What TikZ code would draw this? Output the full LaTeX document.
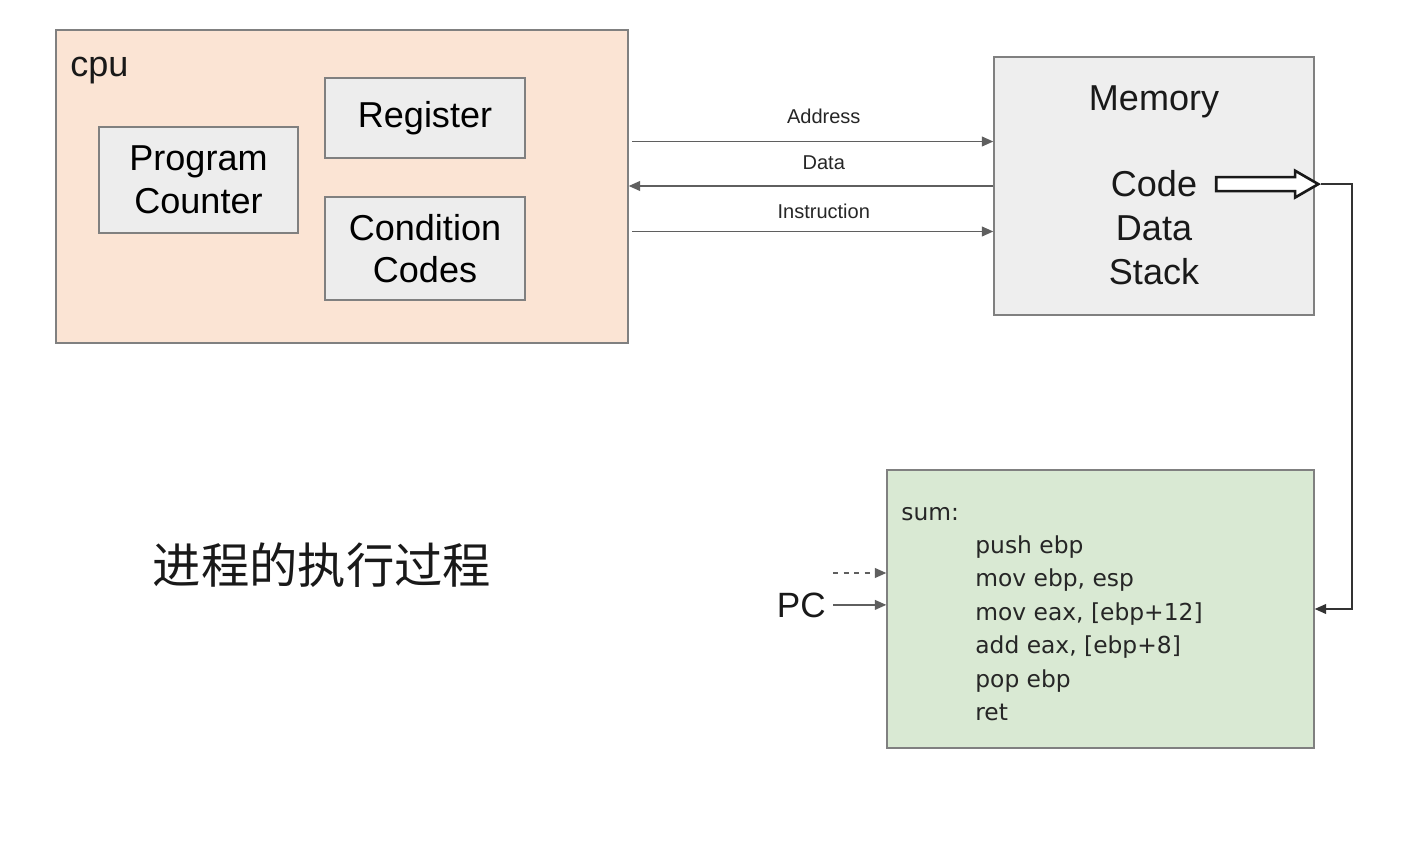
\documentclass[tikz,border=0pt]{standalone}
\usepackage{fontspec}
\setmainfont{Liberation Sans}
\newfontfamily\codefont{DejaVu Sans}
\newfontfamily\cjkfont{Noto Sans CJK SC}
\usetikzlibrary{arrows.meta, positioning, shapes.arrows}

\definecolor{cpufill}{HTML}{FBE4D4}
\definecolor{boxfill}{HTML}{EDEDED}
\definecolor{memfill}{HTML}{EEEEEE}
\definecolor{progfill}{HTML}{D9E9D3}
\definecolor{edge}{HTML}{808080}
\definecolor{wire}{HTML}{5F5F5F}

\begin{document}
\begin{tikzpicture}[x=0.02cm, y=-0.02cm,
    unit/.style={draw=edge, line width=0.8pt, inner sep=0pt},
    part/.style={unit, fill=boxfill, minimum width=4cm, align=center,
                 font=\fontsize{20.5}{24.2}\selectfont},
    bigtext/.style={font=\fontsize{20.5}{24}\selectfont, inner sep=0pt, text=black!90},
    bus/.style={draw=wire, line width=1pt, -{Triangle[length=6.5pt, width=5.5pt]}},
    buslabel/.style={font=\fontsize{11.4}{13}\selectfont, inner sep=0pt, text=black!85},
    codeline/.style={font=\codefont\fontsize{13.3}{15}\selectfont, text=black!85,
                     inner sep=0pt, anchor=base west},
    fatarrow/.style={single arrow, draw=black!90, line width=1.5pt, fill=white,
                     inner xsep=0pt, inner ysep=3.25pt, minimum height=2.04cm,
                     single arrow head extend=3.6pt, single arrow tip angle=60}]

\useasboundingbox (0,0) rectangle (1420,844);

% processor and its parts
\node[unit, fill=cpufill, minimum width=11.44cm, minimum height=6.26cm] (cpu) at (342,186.5) {};
\node[bigtext, anchor=base west] (cpulabel) at (70,77) {cpu};
\node[part, minimum width=3.98cm, minimum height=2.12cm] (pcount) at (198.5,180) {Program\\Counter};
\node[part, minimum height=1.6cm] (reg) at (425,118) {Register};
\node[part, minimum height=2.06cm] (cc) at (425,248.5) {Condition\\Codes};

% memory
\node[unit, fill=memfill, minimum width=6.4cm, minimum height=5.16cm] (mem) at (1154,186) {};
\node[bigtext, anchor=base] (memtitle) at (1154,111) {Memory};
\node[bigtext, anchor=base] (code) at (1154,197) {Code};
\node[bigtext, anchor=base] (data) at (1154,241) {Data};
\node[bigtext, anchor=base] (stack) at (1154,285) {Stack};

% buses between cpu and memory
\coordinate (addr) at ([yshift=0.9cm]cpu.east);
\coordinate (instr) at ([yshift=-0.9cm]cpu.east);
\draw[bus, shorten <=2pt] (addr) -- (addr -| mem.west)
    node[buslabel, pos=0.535, above=9.5pt] {Address};
\draw[bus] (mem.west) -- (mem.west -| cpu.east)
    node[buslabel, pos=0.465, above=8.5pt] {Data};
\draw[bus, shorten <=2pt] (instr) -- (instr -| mem.west)
    node[buslabel, pos=0.535, above=6.8pt] {Instruction};

% program listing
\node[unit, fill=progfill, minimum width=8.54cm, minimum height=5.56cm] (prog) at (1100.5,609) {};
\node[codeline] (sum) at (901,520) {sum:};
\foreach \ins [count=\i] in {push ebp, {mov ebp, esp}, {mov eax, [ebp+12]},
                             {add eax, [ebp+8]}, pop ebp, ret}
    \node[codeline] (ins\i) at (975,{520+33.4*\i}) {\ins};

% code flows out of memory into the listing
\node[fatarrow, right=10pt of code] (flow) {};
\draw[draw=black!80, line width=1pt, -{Triangle[length=6.5pt, width=5.5pt]}]
    (flow.tip) -- ++(31,0) |- (prog.east);

% program counter
\node[bigtext, anchor=base east, font=\fontsize{20}{24}\selectfont] (pc) at (826,617) {PC};
\coordinate (prevpc) at (833,573);
\draw[bus, dashed] (prevpc) -- (prevpc -| prog.west);
\draw[bus, shorten <=4pt] (pc.east) -- (pc.east -| prog.west);

% caption
\node[font=\cjkfont\fontsize{27.5}{30}\selectfont, inner sep=0pt, text=black!90] (title)
    at (322,565) {进程的执行过程};
\end{tikzpicture}
\end{document}
